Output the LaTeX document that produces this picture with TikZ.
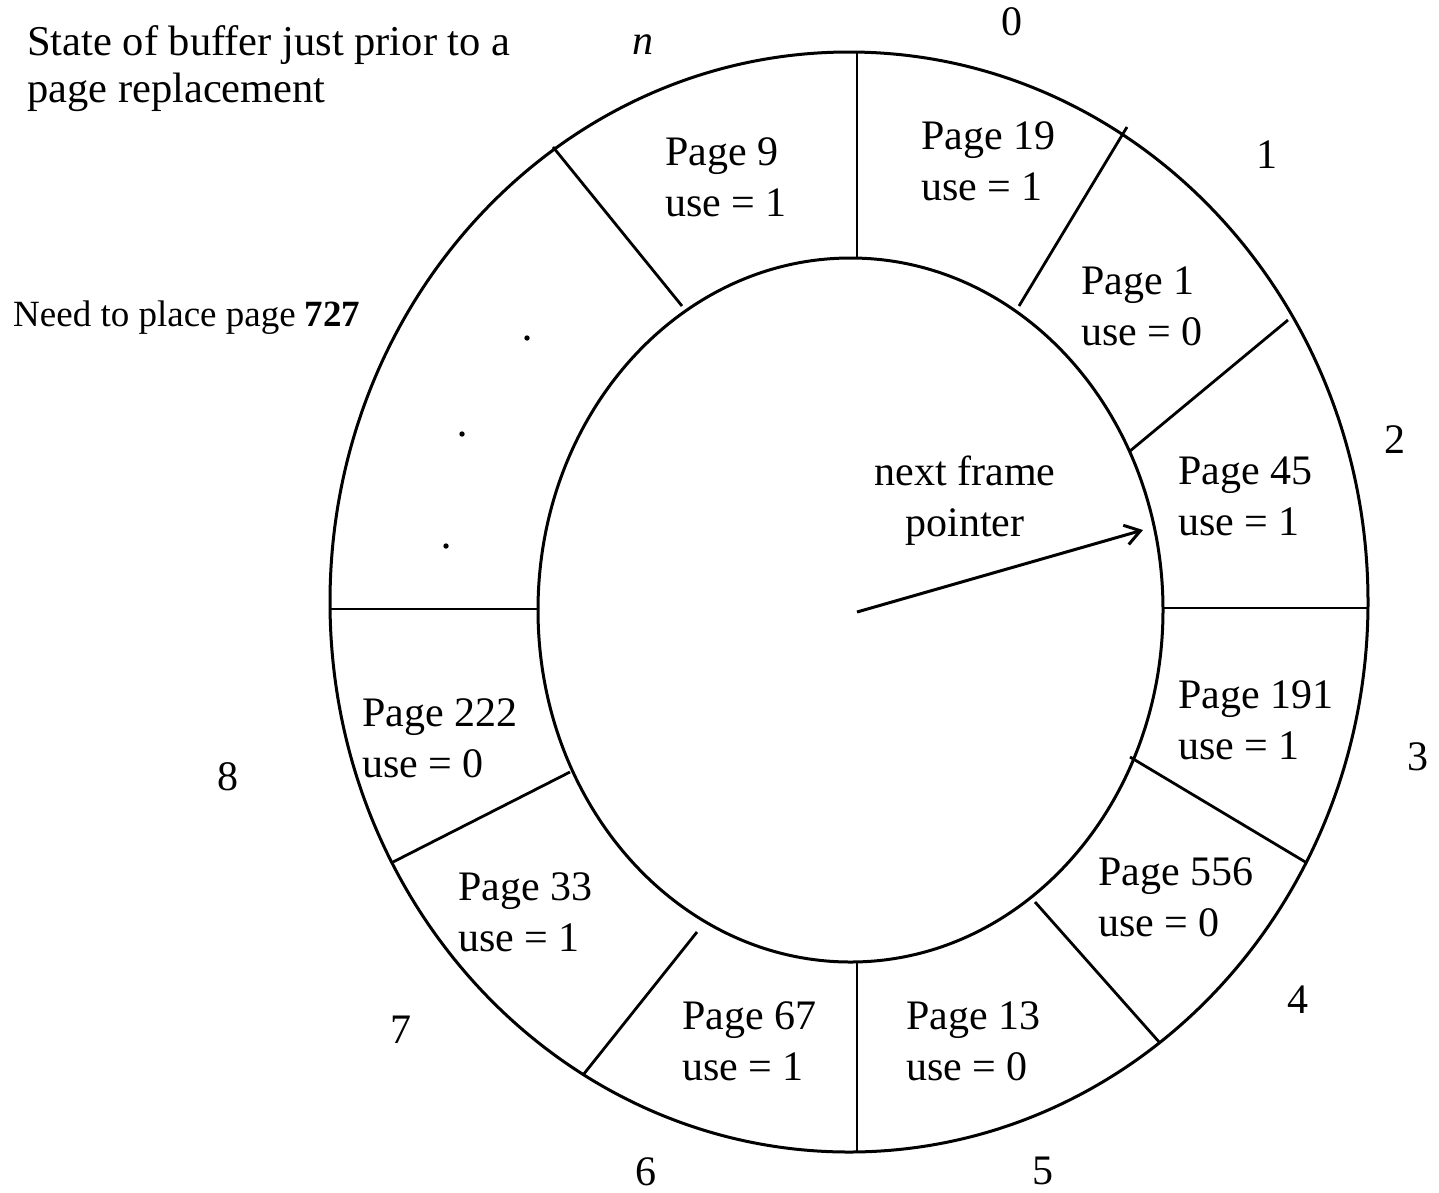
\documentclass[tikz,border=0pt]{standalone}
\usepackage{fontspec}
\setmainfont{Liberation Serif}
\usetikzlibrary{arrows.meta}
\begin{document}
\begin{tikzpicture}[x=1pt,y=-1pt,
  ring/.style={line width=3pt},
  sep/.style={line width=2.8pt},
  lbl/.style={anchor=base west,inner sep=0pt,align=left,font=\fontsize{42}{51}\selectfont},
  num/.style={inner sep=0pt,font=\fontsize{42}{51}\selectfont},
  ptr/.style={line width=3pt,-{Straight Barb[length=15pt,width=20pt,line width=3pt]}}]
\useasboundingbox (0,0) rectangle (1439,1192);
% rings
\draw[ring] (849,602) ellipse [x radius=519, y radius=550];
\draw[ring] (850.5,610) ellipse [x radius=312.5, y radius=352];
% separators
\coordinate (a0) at (857,51);   \coordinate (b0) at (857,258);
\coordinate (a1) at (1127,127); \coordinate (b1) at (1019,306);
\coordinate (a2) at (1288,320); \coordinate (b2) at (1130,451);
\coordinate (a3) at (1368,608); \coordinate (b3) at (1163,608);
\coordinate (a4) at (1307,863); \coordinate (b4) at (1130,757);
\coordinate (a5) at (1160,1043);\coordinate (b5) at (1035,902);
\coordinate (a6) at (857,1152); \coordinate (b6) at (857,962);
\coordinate (a7) at (583,1075); \coordinate (b7) at (697,932);
\coordinate (a8) at (393,862);  \coordinate (b8) at (570,772);
\coordinate (a9) at (330,609);  \coordinate (b9) at (538,609);
\coordinate (a10) at (553,147); \coordinate (b10) at (682,306);
\foreach \i in {0,...,10} \draw[sep] (a\i) -- (b\i);
% pointer
\coordinate (ctr) at (857,612);
\coordinate (tip) at (1143,530);
\draw[ptr] (ctr) -- (tip);
\node[num,align=center,anchor=base] (nfp) at (965,536) {next frame\\pointer};
% dots
\fill (527,338) circle (2.7);
\fill (462,434) circle (2.7);
\fill (446,546) circle (2.7);
% page labels (anchor = baseline of the second line)
\node[lbl] (p9)   at (665,216)  {Page 9\\use = 1};
\node[lbl] (p19)  at (921,200)  {Page 19\\use = 1};
\node[lbl] (p1)   at (1081,345) {Page 1\\use = 0};
\node[lbl] (p45)  at (1178,535) {Page 45\\use = 1};
\node[lbl] (p191) at (1178,759) {Page 191\\use = 1};
\node[lbl] (p556) at (1098,936) {Page 556\\use = 0};
\node[lbl] (p13)  at (906,1080) {Page 13\\use = 0};
\node[lbl] (p67)  at (682,1080) {Page 67\\use = 1};
\node[lbl] (p33)  at (458,951)  {Page 33\\use = 1};
\node[lbl] (p222) at (362,777)  {Page 222\\use = 0};
% frame numbers
\node[num] (n0) at (1012,22) {0};
\node[num] (nn) at (643,45) {\itshape n};
\node[num] (n1) at (1267,155) {1};
\node[num] (n2) at (1395,440) {2};
\node[num] (n3) at (1418,757) {3};
\node[num] (n4) at (1298,1000) {4};
\node[num] (n5) at (1043,1171) {5};
\node[num] (n6) at (646,1172) {6};
\node[num] (n7) at (401,1030) {7};
\node[num] (n8) at (228,777) {8};
% captions
\node[anchor=base west,inner sep=0pt,align=left,font=\fontsize{42.5}{47}\selectfont] (title) at (27,102) {State of buffer just prior to a\\page replacement};
\node[anchor=base west,inner sep=0pt,font=\fontsize{37}{44}\selectfont] (need) at (13,326) {Need to place page \textbf{727}};
\end{tikzpicture}
\end{document}
